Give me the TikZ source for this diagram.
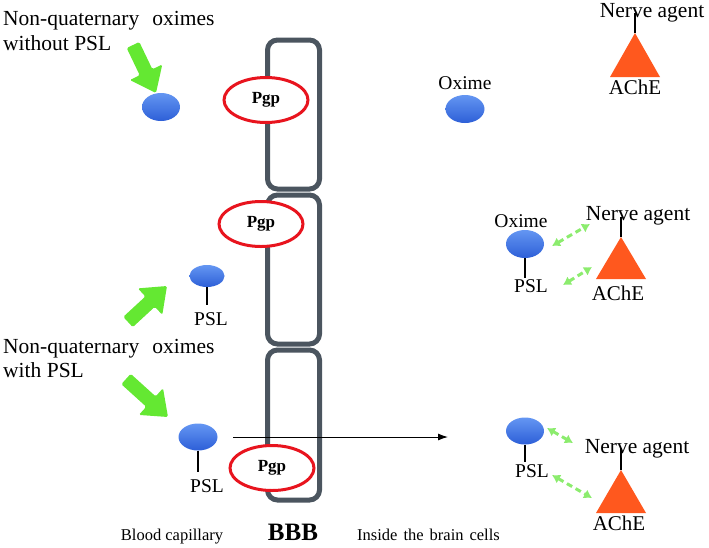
\documentclass[tikz,border=0pt]{standalone}
\usepackage{fontspec}
\setmainfont{Liberation Serif}
\usetikzlibrary{shapes.geometric,arrows.meta,calc}
\definecolor{membr}{RGB}{75,85,95}
\definecolor{pgpred}{RGB}{232,20,30}
\definecolor{fatgreen}{RGB}{100,232,50}
\definecolor{dashgreen}{RGB}{140,236,110}
\definecolor{achecol}{RGB}{255,88,30}
\definecolor{balltop}{RGB}{100,150,242}
\definecolor{ballbot}{RGB}{45,95,215}
\newcommand\fatarrow[2]{%
  \fill[fatgreen,rounded corners=1.5pt] ($(#1)!7pt!90:(#2)$) -- ($(#2)!23pt!(#1)!7pt!-90:(#1)$)
   -- ($(#2)!23pt!(#1)!18pt!-90:(#1)$) -- (#2) -- ($(#2)!23pt!(#1)!18pt!90:(#1)$)
   -- ($(#2)!23pt!(#1)!7pt!90:(#1)$) -- ($(#1)!7pt!-90:(#2)$) -- cycle;}
\begin{document}
\begin{tikzpicture}[x=1pt,y=-1pt,
  cell/.style={draw=membr,line width=5pt,rounded corners=10pt},
  pgp/.style={ellipse,draw=pgpred,line width=3pt,fill=white,minimum width=84pt,minimum height=45pt,inner sep=0pt,font=\bfseries\fontsize{17}{20}\selectfont},
  ball/.style={ellipse,inner sep=0pt,top color=balltop,bottom color=ballbot,draw=none},
  bigtxt/.style={anchor=base west,inner sep=0pt,font=\fontsize{21.5}{25}\selectfont},
  lbl/.style={anchor=base,inner sep=0pt,font=\fontsize{19.5}{22}\selectfont},
  natxt/.style={anchor=base,inner sep=0pt,font=\fontsize{21.5}{25}\selectfont},
  achetxt/.style={anchor=base,inner sep=0pt,font=\fontsize{21}{25}\selectfont},
  foot/.style={anchor=base,inner sep=0pt,font=\fontsize{16.5}{20}\selectfont},
  stem/.style={line width=1.6pt,black},
  dbl/.style={dashgreen,line width=3pt,dash pattern=on 6pt off 4pt,{Latex[length=8pt,width=10pt]}-{Latex[length=8pt,width=10pt]}},
  ache/.style={fill=achecol}]
\path[use as bounding box] (0,0) rectangle (709,547);

% membrane cells
\draw[cell] (267.5,40) rectangle (319.5,189);
\draw[cell] (267.5,195) rectangle (319.5,344);
\draw[cell] (267.5,350) rectangle (319.5,500);

% left texts
\node[bigtxt] (t1a) at (3,25) {Non-quaternary\hspace{13pt}oximes};
\node[bigtxt] (t1b) at (3,50) {without PSL};
\node[bigtxt] (t2a) at (3,353) {Non-quaternary\hspace{13pt}oximes};
\node[bigtxt] (t2b) at (3,377) {with PSL};

% big green arrows
\coordinate (g1t) at (133,45);  \coordinate (g1h) at (156,93);
\coordinate (g2t) at (128,322); \coordinate (g2h) at (167,286);
\coordinate (g3t) at (126,379); \coordinate (g3h) at (168,417);
\fatarrow{g1t}{g1h}
\fatarrow{g2t}{g2h}
\fatarrow{g3t}{g3h}

% oximes on the blood side
\node[ball,minimum width=38pt,minimum height=28pt] (ox1) at (161,107) {};
\node[ball,minimum width=35pt,minimum height=22pt] (ox3) at (207,276) {};
\draw[stem] (ox3.south) -- ++(0,18);
\node[lbl] (psl1) at (211,325) {PSL};
\node[ball,minimum width=39pt,minimum height=27pt] (ox4) at (198,437) {};
\draw[stem] (ox4.south) -- ++(0,21);
\node[lbl] (psl2) at (207,492) {PSL};

% transport arrow
\coordinate (ha) at (233,437);
\coordinate (hb) at (448,437);
\draw[line width=1pt,-{Latex[length=10pt,width=7pt]}] (ha) -- (hb);

% Pgp
\node[pgp] (p1) at (266,100) {Pgp};
\node[pgp] (p2) at (261,224) {Pgp};
\node[pgp] (p3) at (272,468) {Pgp};

% top right
\node[lbl] (oxl1) at (465,89) {Oxime};
\node[ball,minimum width=39pt,minimum height=28pt] (ox2) at (465,109) {};
\coordinate (a1) at (635,33);
\fill[ache] (a1) -- ++(25,44) -- ++(-50,0) -- cycle;
\draw[stem] (a1) -- ++(0,-20);
\node[natxt] (na1) at (652,17) {Nerve agent};
\node[achetxt] (ac1) at (635,94) {AChE};

% middle right
\node[lbl] (oxl2) at (521,227) {Oxime};
\node[ball,minimum width=38pt,minimum height=28pt] (ox5) at (525,244) {};
\draw[stem] (ox5.south) -- ++(0,20);
\node[lbl] (psl3) at (531,292) {PSL};
\coordinate (a2) at (621,237);
\fill[ache] (a2) -- ++(25,42) -- ++(-50,0) -- cycle;
\draw[stem] (a2) -- ++(0,-20);
\node[natxt] (na2) at (638,220) {Nerve agent};
\node[achetxt] (ac2) at (618,300) {AChE};
\coordinate (d1a) at (552,246); \coordinate (d1b) at (590,224);
\coordinate (d2a) at (563,285); \coordinate (d2b) at (592,267);
\draw[dbl] (d1a) -- (d1b);
\draw[dbl] (d2a) -- (d2b);

% bottom right
\node[ball,minimum width=38pt,minimum height=27pt] (ox6) at (525,431) {};
\draw[stem] (ox6.south) -- ++(0,17);
\node[lbl] (psl4) at (532,477) {PSL};
\coordinate (a3) at (621,470);
\fill[ache] (a3) -- ++(25,43) -- ++(-50,0) -- cycle;
\draw[stem] (a3) -- ++(0,-22);
\node[natxt] (na3) at (637,453) {Nerve agent};
\node[achetxt] (ac3) at (619,530) {AChE};
\coordinate (e1a) at (547,428); \coordinate (e1b) at (573,443);
\coordinate (e2a) at (552,475); \coordinate (e2b) at (592,498);
\draw[dbl] (e1a) -- (e1b);
\draw[dbl] (e2a) -- (e2b);

% footer labels
\node[foot] (f1) at (172,540) {Blood capillary};
\node[foot,font=\bfseries\fontsize{25}{28}\selectfont] (f2) at (293,540) {BBB};
\node[foot,anchor=base west] (f3) at (357,540) {Inside\hspace{6pt}the\hspace{6pt}brain\hspace{6pt}cells};
\end{tikzpicture}
\end{document}
